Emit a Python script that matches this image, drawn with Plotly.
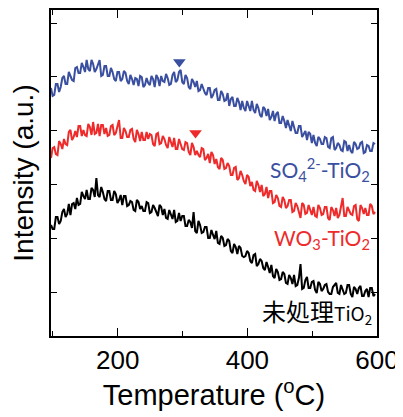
import plotly.graph_objects as go

# Temperature grid (°C), one reading every 2.5 °C
temperature = [97 + 2.5 * i for i in range(201)]

# Intensities (a.u.)
so4_tio2 = [312,304,305,316,316,308,313,322,324,316,
            316,328,324,320,319,332,333,327,327,337,
            333,328,340,331,329,340,336,328,331,335,
            340,324,325,334,334,324,324,332,328,321,
            319,328,328,319,321,329,327,319,316,325,
            321,315,322,321,314,324,323,313,315,322,
            317,315,324,321,313,325,322,314,324,319,
            318,326,322,315,316,325,328,318,320,328,
            330,318,316,325,322,313,311,321,318,313,
            319,309,310,316,312,307,305,312,312,302,
            305,310,311,300,300,309,306,299,300,307,
            294,301,303,294,294,302,298,290,299,292,
            289,299,294,289,299,290,287,296,292,285,
            283,293,291,284,291,280,283,289,279,286,
            288,277,277,284,279,272,280,273,269,279,
            274,267,267,274,274,263,266,269,260,268,
            266,257,265,257,254,263,261,256,256,263,
            262,253,252,262,263,250,252,257,255,250,
            249,259,258,249,255,249,247,258,256,251,
            252,257,258,247,248,255,254,249,249,257,
            256]
wo3_tio2 = [242,252,253,246,245,259,256,251,261,256,
            255,268,270,260,263,269,263,274,274,264,
            270,265,264,276,273,265,278,266,267,276,
            264,275,275,266,272,264,265,274,275,265,
            267,274,280,262,262,272,269,263,263,270,
            271,261,258,270,266,259,268,260,260,268,
            261,266,265,256,254,266,267,256,257,264,
            261,255,252,263,258,253,262,251,251,261,
            256,251,250,258,257,248,245,257,253,245,
            249,245,243,252,251,240,242,246,237,248,
            245,236,241,233,231,242,240,231,232,237,
            234,225,225,232,233,220,222,229,225,219,
            216,225,223,214,218,210,209,219,215,208,
            215,204,206,213,202,209,209,197,198,205,
            202,194,193,203,200,192,194,200,200,188,
            189,197,194,187,182,197,195,186,187,195,
            190,185,193,184,183,195,192,185,186,193,
            193,182,180,193,190,184,192,182,185,194,
            202,184,184,193,190,186,185,194,195,181,
            179,195,192,186,192,185,185,196,194,186,
            188]
untreated_tio2 = [175,171,171,183,183,176,179,188,191,183,
                  186,196,185,196,197,191,202,195,196,208,
                  204,201,210,201,201,212,210,203,222,205,
                  203,213,208,201,199,209,209,200,200,209,
                  206,197,200,205,195,204,204,194,195,199,
                  198,190,189,200,198,191,194,189,189,198,
                  197,187,188,195,192,187,184,195,193,185,
                  191,182,181,190,186,181,190,178,179,187,
                  179,184,184,174,174,180,178,172,188,169,
                  167,179,175,167,168,173,173,162,162,170,
                  165,161,169,157,156,164,162,154,155,161,
                  159,149,147,156,153,146,154,152,144,143,
                  144,149,147,139,137,145,146,134,136,141,
                  139,132,130,138,133,127,135,124,122,131,
                  128,120,121,128,126,117,116,125,122,116,
                  125,114,115,122,136,111,112,120,123,112,
                  112,118,119,110,107,118,116,109,111,115,
                  116,108,106,106,113,115,117,107,106,115,
                  111,106,107,115,115,106,103,113,111,106,
                  112,114,104,104,109,111,103,112,112,104,
                  106]

# Peak markers
marker_temps = [295, 320]
marker_vals = [338, 267]

y_ticks = [108, 161.8, 215.6, 269.4, 323.2, 377]

BLUE = "#3a4fa0"
RED = "#ee2a2a"
BLACK = "#000000"

fig = go.Figure()
for vals, col in [(untreated_tio2, BLACK), (wo3_tio2, RED), (so4_tio2, BLUE)]:
    fig.add_trace(go.Scatter(x=temperature, y=vals, mode="lines",
                             line=dict(color=col, width=2), showlegend=False))

fig.add_trace(go.Scatter(x=marker_temps, y=marker_vals, mode="markers",
                         marker=dict(symbol="triangle-down", size=11, color=[BLUE, RED]),
                         showlegend=False))

lab_font = "Lato, Noto Sans, sans-serif"
fig.add_annotation(x=592, y=231, xref="x", yref="y", xanchor="right", yanchor="middle",
                   text="SO<sub>4</sub><sup>2-</sup>-TiO<sub>2</sub>", showarrow=False,
                   font=dict(color=BLUE, size=21, family=lab_font))
fig.add_annotation(x=592, y=161, xref="x", yref="y", xanchor="right", yanchor="middle",
                   text="WO<sub>3</sub>-TiO<sub>2</sub>", showarrow=False,
                   font=dict(color=RED, size=21, family=lab_font))
fig.add_annotation(x=595, y=89, xref="x", yref="y", xanchor="right", yanchor="middle",
                   text="<span style='font-size:24px'>未処理</span>TiO<sub>2</sub>", showarrow=False,
                   font=dict(color=BLACK, size=19, family="Noto Sans CJK JP, sans-serif"))

# the page body adds an 8px margin, so the figure is sized to fit inside it
fig.update_layout(
    width=395, height=409,
    margin=dict(l=43, r=26, t=2, b=81),
    plot_bgcolor="white", paper_bgcolor="white",
    font=dict(family="Liberation Sans, Arial, sans-serif", color="black"),
)
fig.update_xaxes(
    range=[97, 600], tickvals=[200, 400, 600], ticks="inside", ticklen=8, tickwidth=1.2,
    tickcolor="black", showgrid=False, zeroline=False, automargin=False,
    showline=True, linecolor="black", linewidth=1.5, mirror="ticks",
    tickfont=dict(size=26),
    minor=dict(tickvals=[100, 300, 500], ticks="inside", ticklen=5, tickwidth=1.2, tickcolor="black"),
    title=dict(text="Temperature (<sup>o</sup>C)", font=dict(size=29), standoff=5),
)
fig.update_yaxes(
    range=[64, 390], tickvals=y_ticks, showticklabels=False, ticks="inside", ticklen=6,
    tickwidth=1.2, tickcolor="black", showgrid=False, zeroline=False, automargin=False,
    showline=True, linecolor="black", linewidth=1.5, mirror="ticks",
    title=dict(text="Intensity (a.u.)", font=dict(size=28), standoff=9),
)

fig.write_html("out.html")
